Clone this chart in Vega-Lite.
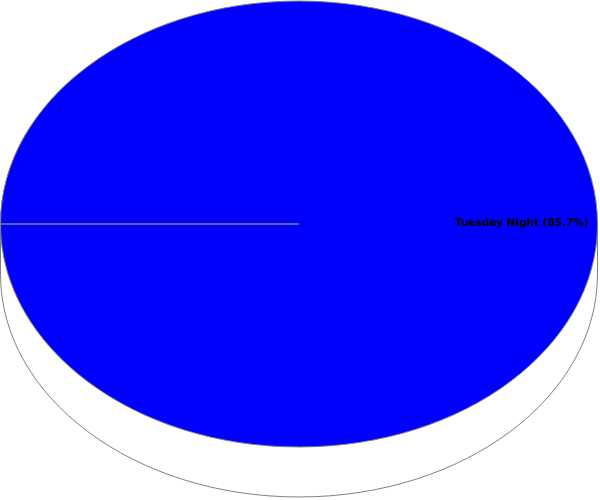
{
  "$schema": "https://vega.github.io/schema/vega-lite/v6.json",
  "width": 598,
  "height": 448,
  "autosize": "none",
  "padding": {"left": 0, "top": 0, "right": 2, "bottom": 52},
  "background": "white",
  "config": {"view": {"stroke": null}},
  "data": {"values": [
    {"category": "Tuesday Night", "percent": 85.7, "label": "Tuesday Night (85.7%)"}
  ]},
  "layer": [
    {
      "mark": {
        "type": "point",
        "shape": "M-1,0 L-1,0.1675 A1,0.747 0 0,0 1,0.1675 L1,0 Z",
        "size": 356409,
        "filled": true,
        "fill": "white",
        "stroke": "#808080",
        "strokeWidth": 1,
        "opacity": 1
      },
      "encoding": {}
    },
    {
      "mark": {
        "type": "point",
        "shape": "M0,0 L-1,0 A1,0.747 0 1,1 1,0 A1,0.747 0 1,1 -1,0 Z",
        "size": 356409,
        "filled": true,
        "fill": "#0000ff",
        "stroke": "#808080",
        "strokeWidth": 1,
        "opacity": 1
      },
      "encoding": {}
    },
    {
      "mark": {
        "type": "text",
        "radius": 223,
        "font": "DejaVu Sans",
        "fontSize": 10.5,
        "fontWeight": "bold",
        "color": "#000000",
        "align": "center",
        "baseline": "alphabetic",
        "dy": 2
      },
      "encoding": {
        "theta": {"field": "percent", "type": "quantitative", "stack": true, "scale": {"range": [4.712389, 10.995574]}},
        "text": {"field": "label", "type": "nominal"}
      }
    }
  ]
}
